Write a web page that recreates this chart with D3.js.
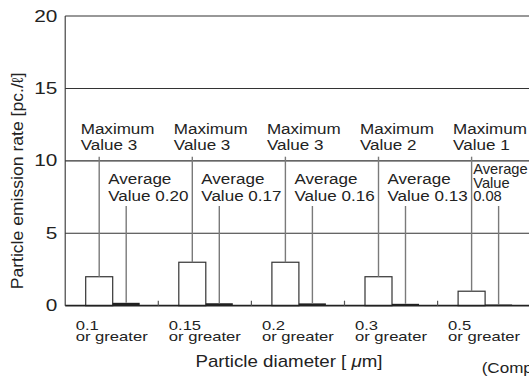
<!DOCTYPE html>
<html>
<head>
<meta charset="utf-8">
<script src="https://cdn.jsdelivr.net/npm/d3@7"></script>
<style>
  body { margin: 0; background: #fff; }
  svg { display: block; }
</style>
</head>
<body>
<div id="chart"></div>
<script>
// data
const categories = ["0.1", "0.15", "0.2", "0.3", "0.5"];
const maxBarValues = [2, 3, 3, 2, 1];
const maxLabelLines = [
    ["Maximum", "Value 3"], ["Maximum", "Value 3"], ["Maximum", "Value 3"],
    ["Maximum", "Value 2"], ["Maximum", "Value 1"]
];
const avgValues = [0.20, 0.17, 0.16, 0.13, 0.08];
const avgLabelLines = [
    ["Average", "Value 0.20"], ["Average", "Value 0.17"], ["Average", "Value 0.16"],
    ["Average", "Value 0.13"], ["Average", "Value", "0.08"]
];
const yTicks = [0, 5, 10, 15, 20];

const W = 529, H = 377;
const plotLeft = 65.2, plotRight = 530.7, plotTop = 16, plotBottom = 305.7;
const font = "'Liberation Sans', Arial, Helvetica, sans-serif";

const svg = d3.select("#chart").append("svg")
    .attr("width", W)
    .attr("height", H);

const x = d3.scaleBand().domain(categories).range([plotLeft, plotRight]);
const inner = d3.scaleBand().domain(["max", "avg"]).range([20.5, 74.5]);
const y = d3.scaleLinear().domain([0, 20]).range([plotBottom, plotTop]);

// text drawn with a small horizontal stretch, the original face is wider than Arial
function stretchText(g, str, px, py, size, sx, anchor) {
    return g.append("text")
        .attr("transform", `translate(${px},${py}) scale(${sx},1)`)
        .attr("font-family", font)
        .attr("font-size", size)
        .attr("fill", "#222")
        .attr("text-anchor", anchor || "start")
        .text(str);
}

// grid lines and frame
svg.append("g").selectAll("line")
    .data(yTicks.filter(d => d > 0))
    .enter().append("line")
    .attr("x1", plotLeft).attr("x2", W + 5)
    .attr("y1", d => y(d)).attr("y2", d => y(d))
    .attr("stroke", "#333").attr("stroke-width", 1.1);

svg.append("line")
    .attr("x1", plotLeft).attr("x2", plotLeft)
    .attr("y1", y(20)).attr("y2", y(0))
    .attr("stroke", "#333").attr("stroke-width", 1.1);

// y axis labels
const yAxis = svg.append("g")
    .attr("transform", `translate(${plotLeft},0)`)
    .call(d3.axisLeft(y).tickValues(yTicks).tickSize(0).tickPadding(6));
yAxis.select(".domain").remove();
yAxis.selectAll("text")
    .attr("font-family", font)
    .attr("font-size", 16)
    .attr("fill", "#222")
    .attr("transform", "scale(1.3,1)");

// bars
const groups = svg.append("g").selectAll("g")
    .data(categories)
    .enter().append("g")
    .attr("transform", d => `translate(${x(d)},0)`);

groups.append("rect")
    .attr("x", inner("max"))
    .attr("y", (d, i) => y(maxBarValues[i]))
    .attr("width", inner.bandwidth())
    .attr("height", (d, i) => y(0) - y(maxBarValues[i]))
    .attr("fill", "#fff")
    .attr("stroke", "#333")
    .attr("stroke-width", 1.2);

groups.append("rect")
    .attr("x", inner("avg"))
    .attr("y", (d, i) => y(avgValues[i]))
    .attr("width", inner.bandwidth())
    .attr("height", (d, i) => y(0) - y(avgValues[i]))
    .attr("fill", "#222");

// leader lines
groups.append("line")
    .attr("x1", inner("max") + inner.bandwidth() / 2)
    .attr("x2", inner("max") + inner.bandwidth() / 2)
    .attr("y1", (d, i) => y(maxBarValues[i]))
    .attr("y2", 156.7)
    .attr("stroke", "#7a7a7a").attr("stroke-width", 1.4);

groups.append("line")
    .attr("x1", inner("avg") + inner.bandwidth() / 2)
    .attr("x2", inner("avg") + inner.bandwidth() / 2)
    .attr("y1", (d, i) => y(avgValues[i]))
    .attr("y2", 206)
    .attr("stroke", "#7a7a7a").attr("stroke-width", 1.4);

// bottom axis
svg.append("line")
    .attr("x1", plotLeft).attr("x2", W + 5)
    .attr("y1", y(0)).attr("y2", y(0))
    .attr("stroke", "#222").attr("stroke-width", 1.8);

svg.append("g").selectAll("line")
    .data(categories.slice(1))
    .enter().append("line")
    .attr("x1", d => x(d)).attr("x2", d => x(d))
    .attr("y1", y(0)).attr("y2", y(0) - 5)
    .attr("stroke", "#555").attr("stroke-width", 1.2);

// value labels
groups.each(function(d, i) {
    const g = d3.select(this);
    maxLabelLines[i].forEach((t, k) => stretchText(g, t, 15.5, 134 + k * 16, 15.5, 1.1));
    const lines = avgLabelLines[i];
    if (lines.length > 2) {
        // narrow label squeezed at the right edge
        lines.forEach((t, k) => stretchText(g, t, 35.6, 174 + k * 13.5, 14, 1.05));
    } else {
        lines.forEach((t, k) => stretchText(g, t, 43, 184 + k * 16.5, 15.5, 1.1));
    }
});

// x tick labels
groups.each(function(d) {
    const g = d3.select(this);
    stretchText(g, d, 10.5, 330, 13.5, 1.23);
    stretchText(g, "or greater", 10.5, 341, 13.5, 1.23);
});

// axis titles
const xt = stretchText(svg, "Particle diameter [", 289, 367, 16, 1.17, "middle");
xt.append("tspan").text(" ");
xt.append("tspan").attr("font-style", "italic").text("\u03bc");
xt.append("tspan").text("m]");

svg.append("text")
    .attr("transform", "translate(23,181) rotate(-90) scale(1.1,1)")
    .attr("font-family", font)
    .attr("font-size", 16)
    .attr("fill", "#222")
    .attr("text-anchor", "middle")
    .text("Particle emission rate [pc./\u2113]");

stretchText(svg, "(Company data)", 481.7, 373, 15.5, 1.1);
</script>
</body>
</html>
